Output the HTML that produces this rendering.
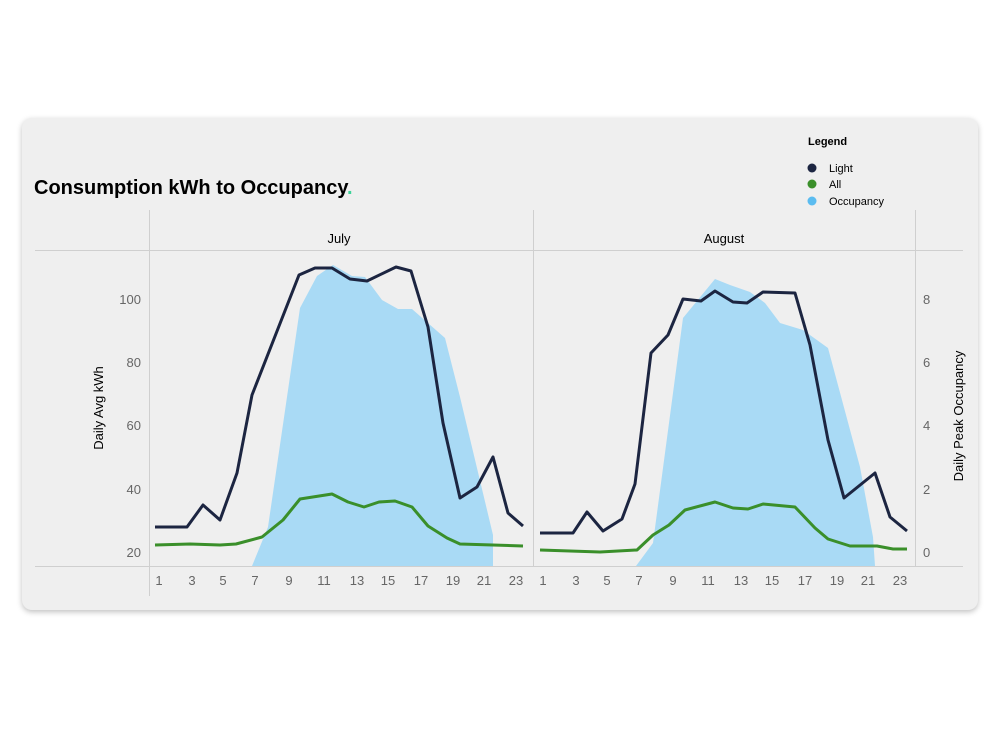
<!DOCTYPE html>
<html><head><meta charset="utf-8"><style>
body{margin:0;background:#fff;width:1000px;height:729px;overflow:hidden;font-family:"Liberation Sans",sans-serif}
.card{position:absolute;left:22px;top:118px;width:956px;height:492px;background:#efefef;border-radius:10px;box-shadow:0 2px 6px rgba(0,0,0,.25)}
</style></head><body>
<div class="card"></div>
<svg width="1000" height="729" style="position:absolute;left:0;top:0" font-family="Liberation Sans, sans-serif">
<text x="34" y="194" font-size="20" font-weight="bold" fill="#000">Consumption kWh to Occupancy<tspan fill="#3ed39a">.</tspan></text>
<text x="808" y="145" font-size="11" font-weight="bold">Legend</text>
<circle cx="812" cy="168" r="4.5" fill="#1c2541"/><text x="829" y="172" font-size="11">Light</text>
<circle cx="812" cy="184" r="4.5" fill="#3a8f2a"/><text x="829" y="188" font-size="11">All</text>
<circle cx="812" cy="201" r="4.5" fill="#5bbcf0"/><text x="829" y="205" font-size="11">Occupancy</text>
<g stroke="#cfcfcf" stroke-width="1">
<line x1="35" y1="250.5" x2="963" y2="250.5"/><line x1="35" y1="566.5" x2="963" y2="566.5"/>
<line x1="149.5" y1="210" x2="149.5" y2="596"/><line x1="533.5" y1="210" x2="533.5" y2="566"/><line x1="915.5" y1="210" x2="915.5" y2="566"/>
</g>
<text x="339" y="243" font-size="13" text-anchor="middle">July</text>
<text x="724" y="243" font-size="13" text-anchor="middle">August</text>
<g font-size="13" fill="#666" text-anchor="end">
<text x="141" y="304">100</text><text x="141" y="367">80</text><text x="141" y="430">60</text><text x="141" y="494">40</text><text x="141" y="557">20</text></g>
<g font-size="13" fill="#666">
<text x="923" y="304">8</text><text x="923" y="367">6</text><text x="923" y="430">4</text><text x="923" y="494">2</text><text x="923" y="557">0</text></g>
<text transform="translate(103,408) rotate(-90)" font-size="13" text-anchor="middle">Daily Avg kWh</text>
<text transform="translate(963,416) rotate(-90)" font-size="13" text-anchor="middle">Daily Peak Occupancy</text>
<g font-size="13" fill="#666" text-anchor="middle">
<text x="159" y="585">1</text><text x="192" y="585">3</text><text x="223" y="585">5</text><text x="255" y="585">7</text><text x="289" y="585">9</text><text x="324" y="585">11</text><text x="357" y="585">13</text><text x="388" y="585">15</text><text x="421" y="585">17</text><text x="453" y="585">19</text><text x="484" y="585">21</text><text x="516" y="585">23</text>
<text x="543" y="585">1</text><text x="576" y="585">3</text><text x="607" y="585">5</text><text x="639" y="585">7</text><text x="673" y="585">9</text><text x="708" y="585">11</text><text x="741" y="585">13</text><text x="772" y="585">15</text><text x="805" y="585">17</text><text x="837" y="585">19</text><text x="868" y="585">21</text><text x="900" y="585">23</text></g>
<g fill="#a9daf5">
<polygon points="252,566 268,527 300,308 317,276 333,265 352,276 365,277 382,300 398,309 412,309 445,338 460,397 493,535 493,566"/>
<polygon points="636,566 653,543 683,318 715,279 730,285 750,292 765,303 780,323 803,330 828,348 860,467 873,537 875,566"/>
</g>
<g fill="none" stroke-width="3" stroke-linejoin="round">
<polyline stroke="#3a8f2a" points="155,545 190,544 220,545 236,544 262,537 283,520 300,499 332,494 348,502 364,507 379,502 395,501 412,507 428,526 447,538 460,544 523,546"/>
<polyline stroke="#3a8f2a" points="540,550 600,552 637,550 653,535 669,525 685,510 715,502 733,508 748,509 763,504 795,507 815,528 828,539 850,546 877,546 893,549 907,549"/>
<polyline stroke="#1c2541" points="155,527 187,527 203,505 220,520 237,473 252,395 299,275 315,268 332,268 350,279 367,281 396,267 411,271 428,327 443,423 460,498 477,487 493,457 508,513 523,526"/>
<polyline stroke="#1c2541" points="540,533 573,533 587,512 603,531 622,519 635,484 651,353 668,335 683,299 701,301 715,291 733,302 747,303 763,292 795,293 810,345 828,440 844,498 875,473 890,517 907,531"/>
</g>
</svg>
</body></html>
